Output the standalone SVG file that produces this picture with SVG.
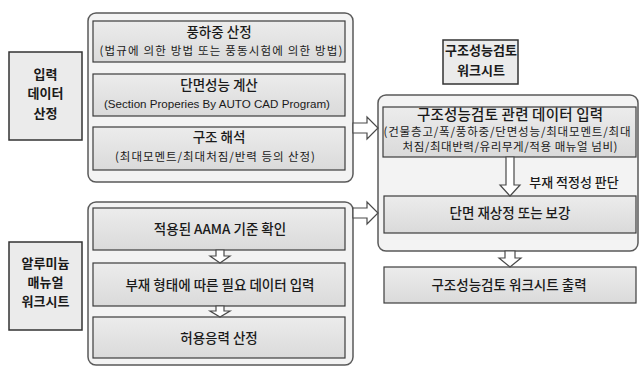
<svg xmlns="http://www.w3.org/2000/svg" width="640" height="367" viewBox="0 0 640 367">
<defs>
<linearGradient id="g" x1="0" y1="0" x2="0" y2="1">
<stop offset="0" stop-color="#ececec"/>
<stop offset="1" stop-color="#dadada"/>
</linearGradient>
<style>
text{font-family:"Noto Sans CJK KR","Noto Sans",sans-serif;fill:#1a1a1a;text-anchor:middle}
.en{font-family:"Liberation Sans",Arial,sans-serif}
.t{font-size:13.5px;font-weight:500}
.s{font-size:11.5px}
.b{font-weight:bold;font-size:13px}
.outer{fill:#f3f3f3;stroke:#5a5a5a;stroke-width:1.5}
.inner{fill:url(#g);stroke:#3c3c3c;stroke-width:1.2}
.lab{fill:#ebebeb;stroke:#333;stroke-width:1.5}
.arr{fill:#fff;stroke:#4a4a4a;stroke-width:1.2;stroke-linejoin:miter}
</style>
</defs>
<rect width="640" height="367" fill="#fff"/>

<g id="label-input">
<rect class="lab" x="9" y="52" width="73" height="88"/>
<text class="b" x="45.5" y="79">입력</text>
<text class="b" x="45.5" y="98">데이터</text>
<text class="b" x="45.5" y="118">산정</text>
</g>

<g id="group-input">
<rect class="outer" x="88" y="13" width="265" height="169" rx="8"/>
</g>
<g id="wind-load">
<rect class="inner" x="93" y="21" width="252" height="41"/>
<text class="t" x="219" y="37">풍하중 산정</text>
<text class="s" x="221" y="55" textLength="243" lengthAdjust="spacing">(법규에 의한 방법 또는 풍동시험에 의한 방법)</text>
</g>
<g id="section-calc">
<rect class="inner" x="93" y="74" width="252" height="42"/>
<text class="t" x="219" y="90">단면성능 계산</text>
<text class="s en" x="217" y="108" textLength="226" lengthAdjust="spacingAndGlyphs">(Section Properies By AUTO CAD Program)</text>
</g>
<g id="struct-analysis">
<rect class="inner" x="93" y="127" width="252" height="43"/>
<text class="t" x="219" y="142">구조 해석</text>
<text class="s" x="215" y="161" textLength="200" lengthAdjust="spacing">(최대모멘트/최대처짐/반력 등의 산정)</text>
</g>

<g id="label-alu">
<rect class="lab" x="9" y="242" width="73" height="88"/>
<text class="b" x="45.5" y="268">알루미늄</text>
<text class="b" x="45.5" y="287">매뉴얼</text>
<text class="b" x="45.5" y="306">워크시트</text>
</g>

<g id="group-alu">
<rect class="outer" x="88" y="202" width="265" height="163" rx="8"/>
</g>
<g id="aama">
<rect class="inner" x="93" y="208" width="252" height="42"/>
<text class="t" x="220" y="234">적용된 AAMA 기준 확인</text>
</g>
<g id="member-data">
<rect class="inner" x="93" y="263" width="252" height="43"/>
<text class="t" x="220" y="290">부재 형태에 따른 필요 데이터 입력</text>
</g>
<g id="allow-stress">
<rect class="inner" x="93" y="317" width="252" height="41"/>
<text class="t" x="219" y="343">허용응력 산정</text>
</g>

<g id="title-worksheet">
<rect class="lab" x="443" y="40" width="75" height="44"/>
<text class="b" x="481" y="55">구조성능검토</text>
<text class="b" x="481" y="75">워크시트</text>
</g>

<g id="group-check">
<rect class="outer" x="378" y="95" width="260" height="156" rx="8"/>
</g>
<g id="check-input">
<rect class="inner" x="383" y="107" width="253" height="50"/>
<text class="t" x="510" y="120" style="font-size:14.5px" textLength="186" lengthAdjust="spacing">구조성능검토 관련 데이터 입력</text>
<text class="s" x="507" y="136" textLength="247" lengthAdjust="spacing">(건물층고/폭/풍하중/단면성능/최대모멘트/최대</text>
<text class="s" x="510" y="151" textLength="215" lengthAdjust="spacing">처짐/최대반력/유리무게/적용 매뉴얼 넘비)</text>
</g>
<g id="resize">
<rect class="inner" x="384" y="196" width="252" height="37"/>
<text class="t" x="510" y="218">단면 재상정 또는 보강</text>
</g>
<g id="output">
<rect class="inner" x="384" y="267" width="252" height="36"/>
<text class="t" x="509" y="290">구조성능검토 워크시트 출력</text>
</g>

<g id="connectors">
<path class="arr" d="M353,123 H367 V117 L378,128 L367,139 V133 H353 Z"/>
<path class="arr" d="M353,208 H367 V202 L378,213 L367,224 V218 H353 Z"/>
<path class="arr" d="M506,157 V185 H500 L510,196 L520,185 H514 V157 Z"/>
<path class="arr" d="M505,251 V258 H499 L510,267 L521,258 H515 V251 Z"/>
<path class="arr" d="M216,250 V256 H210 L220,263 L230,256 H224 V250 Z"/>
<path class="arr" d="M216,306 V311 H210 L220,317 L230,311 H224 V306 Z"/>
<text class="t" x="574" y="187" style="font-size:13px">부재 적정성 판단</text>
</g>
</svg>
